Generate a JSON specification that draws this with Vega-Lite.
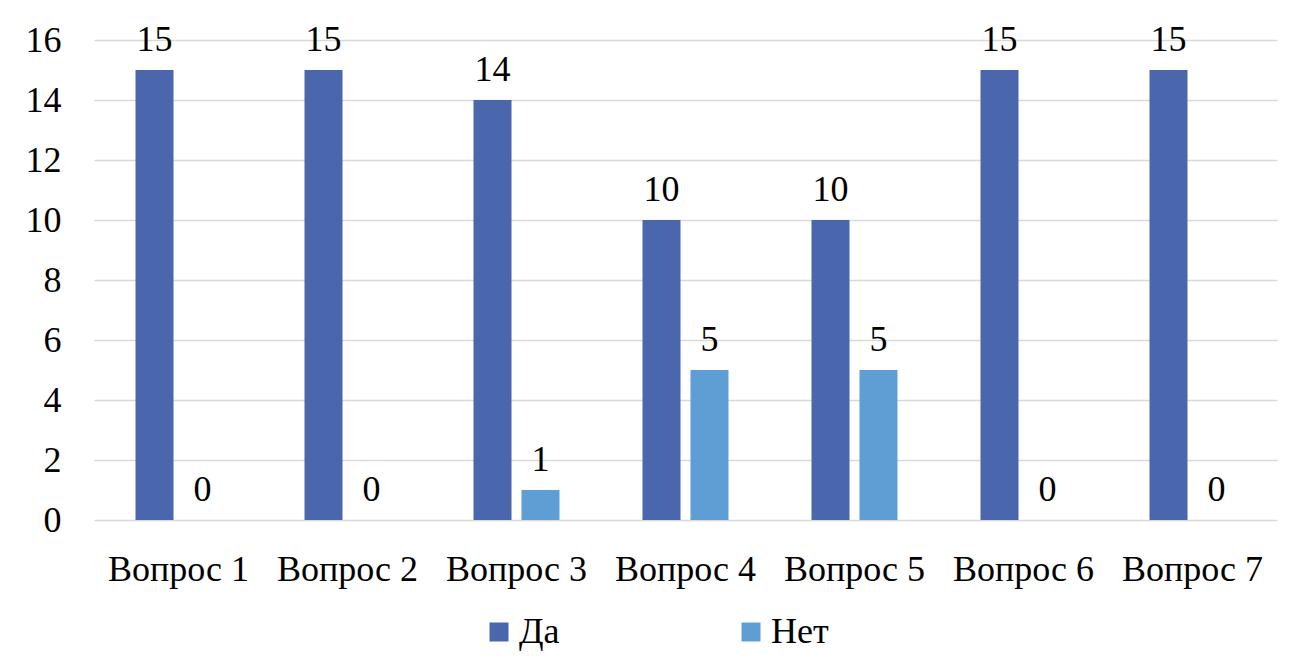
{
  "$schema": "https://vega.github.io/schema/vega-lite/v6.json",
  "width": 1183,
  "height": 480,
  "autosize": {"type": "none"},
  "padding": {"left": 94, "top": 40, "right": 29, "bottom": 150},
  "background": "white",
  "config": {
    "font": "Liberation Serif, Times New Roman, serif",
    "view": {"stroke": null}
  },
  "data": {
    "values": [
      {"q": "Вопрос 1", "s": "Да", "v": 15},
      {"q": "Вопрос 1", "s": "Нет", "v": 0},
      {"q": "Вопрос 2", "s": "Да", "v": 15},
      {"q": "Вопрос 2", "s": "Нет", "v": 0},
      {"q": "Вопрос 3", "s": "Да", "v": 14},
      {"q": "Вопрос 3", "s": "Нет", "v": 1},
      {"q": "Вопрос 4", "s": "Да", "v": 10},
      {"q": "Вопрос 4", "s": "Нет", "v": 5},
      {"q": "Вопрос 5", "s": "Да", "v": 10},
      {"q": "Вопрос 5", "s": "Нет", "v": 5},
      {"q": "Вопрос 6", "s": "Да", "v": 15},
      {"q": "Вопрос 6", "s": "Нет", "v": 0},
      {"q": "Вопрос 7", "s": "Да", "v": 15},
      {"q": "Вопрос 7", "s": "Нет", "v": 0}
    ]
  },
  "encoding": {
    "x": {
      "field": "q", "type": "nominal", "sort": null,
      "scale": {"paddingInner": 0, "paddingOuter": 0},
      "axis": {
        "title": null, "labelAngle": 0, "domain": false, "ticks": false,
        "labelFontSize": 36, "labelColor": "#000000", "labelPadding": 32,
        "labelFont": "Liberation Serif, Times New Roman, serif"
      }
    },
    "xOffset": {
      "field": "s", "type": "nominal",
      "scale": {"paddingInner": 0.208, "paddingOuter": 0.865}
    },
    "y": {
      "field": "v", "type": "quantitative",
      "scale": {"domain": [0, 16], "nice": false},
      "axis": {
        "title": null, "values": [0, 2, 4, 6, 8, 10, 12, 14, 16],
        "domain": false, "ticks": false, "labelFontSize": 36,
        "labelColor": "#000000", "labelPadding": 33,
        "gridColor": "#D9D9D9", "gridWidth": 1.5,
        "labelFont": "Liberation Serif, Times New Roman, serif", "labelBaseline": "middle"
      }
    }
  },
  "layer": [
    {
      "mark": {"type": "bar"},
      "encoding": {
        "color": {
          "field": "s", "type": "nominal",
          "scale": {"domain": ["Да", "Нет"], "range": ["#4A66AC", "#5F9ED5"]},
          "legend": {
            "title": null, "orient": "none", "direction": "horizontal",
            "legendX": 387, "legendY": 574,
            "symbolType": "square", "symbolSize": 361,
            "symbolStrokeWidth": 0,
            "labelFontSize": 36, "labelColor": "#000000",
            "labelFont": "Liberation Serif, Times New Roman, serif", "columnPadding": 173,
            "labelOffset": 2
          }
        }
      }
    },
    {
      "mark": {"type": "text", "fontSize": 36, "baseline": "alphabetic", "dy": -19, "color": "#000000", "font": "Liberation Serif, Times New Roman, serif"},
      "encoding": {
        "text": {"field": "v", "type": "quantitative"}
      }
    }
  ]
}
